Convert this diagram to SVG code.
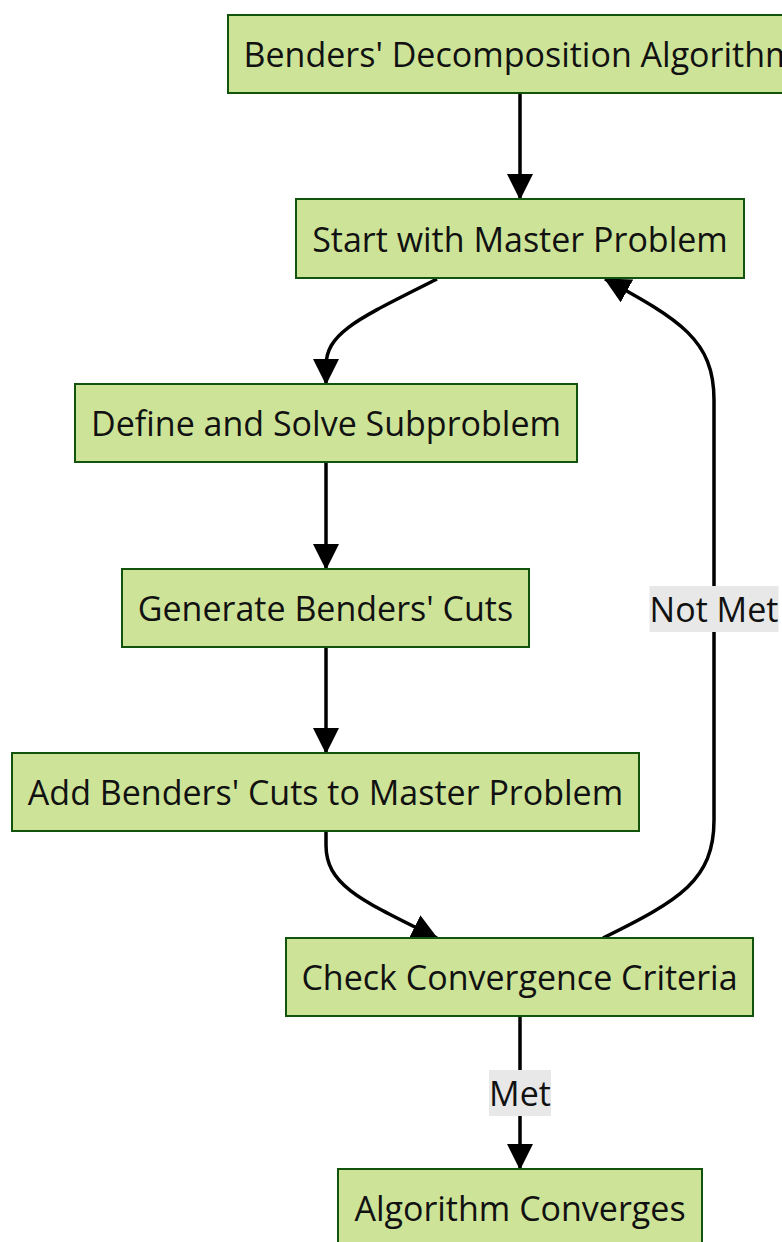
<svg xmlns="http://www.w3.org/2000/svg" width="782" height="1242" viewBox="0 0 782 1242">
<defs>
<style>
.node rect{fill:#cde498;stroke:#13540c;stroke-width:2}
.node text{font-family:"Open Sans","Noto Sans",sans-serif;font-size:34px;fill:#111;text-anchor:middle}
.edge{fill:none;stroke:#000;stroke-width:3.5}
.lbl rect{fill:#e8e8e8}
.lbl text{font-family:"Open Sans","Noto Sans",sans-serif;font-size:34px;fill:#111;text-anchor:middle}
</style>
<marker id="arr" markerUnits="userSpaceOnUse" viewBox="0 0 26 26" refX="25" refY="13" markerWidth="26" markerHeight="26" orient="auto">
<path d="M0,0 L26,13 L0,26 Z" fill="#000"/>
</marker>
</defs>
<rect width="782" height="1242" fill="#fff"/>
<g id="edges">
<path class="edge" d="M520,93 L520,199" marker-end="url(#arr)"/>
<path class="edge" d="M437,279 C360,318 326,332 326,366 L326,384" marker-end="url(#arr)"/>
<path class="edge" d="M326,462 L326,569" marker-end="url(#arr)"/>
<path class="edge" d="M326,647 L326,753" marker-end="url(#arr)"/>
<path class="edge" d="M326,831 L326,845 C326,885 360,900 437,938" marker-end="url(#arr)"/>
<path class="edge" d="M603,938 C680,900 714,880 714,820 L714,400 C714,340 680,320 605,279" marker-end="url(#arr)"/>
<path class="edge" d="M520,1016 L520,1169" marker-end="url(#arr)"/>
</g>
<g id="label-notmet" class="lbl">
<rect x="649.5" y="586" width="129" height="46"/>
<text x="714" y="621.5">Not Met</text>
</g>
<g id="label-met" class="lbl">
<rect x="489" y="1070" width="62" height="46"/>
<text x="520" y="1105.5">Met</text>
</g>
<g id="n1" class="node">
<rect x="228" y="15" width="584" height="78"/>
<text x="520" y="66.5">Benders' Decomposition Algorithm</text>
</g>
<g id="n2" class="node">
<rect x="296" y="199" width="448" height="79"/>
<text x="520" y="251.5">Start with Master Problem</text>
</g>
<g id="n3" class="node">
<rect x="75" y="384" width="502" height="78"/>
<text x="326" y="435.5">Define and Solve Subproblem</text>
</g>
<g id="n4" class="node">
<rect x="122" y="569" width="407" height="78"/>
<text x="325.5" y="620.5">Generate Benders' Cuts</text>
</g>
<g id="n5" class="node">
<rect x="12" y="753" width="627" height="78"/>
<text x="325.5" y="804.5">Add Benders' Cuts to Master Problem</text>
</g>
<g id="n6" class="node">
<rect x="286" y="938" width="467" height="78"/>
<text x="519.5" y="989.5">Check Convergence Criteria</text>
</g>
<g id="n7" class="node">
<rect x="338" y="1169" width="364" height="78"/>
<text x="520" y="1220.5">Algorithm Converges</text>
</g>
</svg>
